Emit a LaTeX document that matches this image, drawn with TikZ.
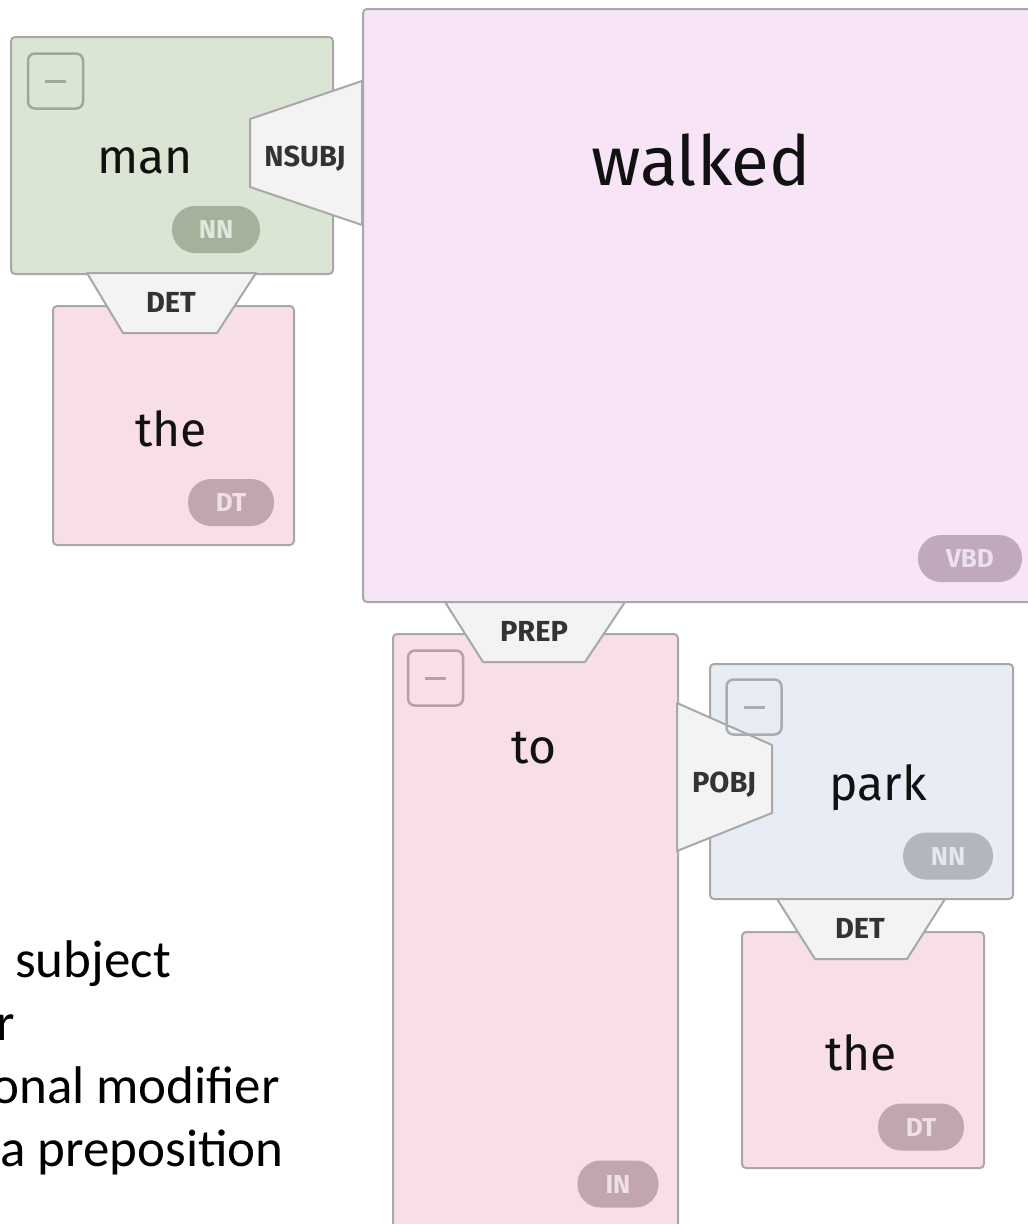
\documentclass[tikz,border=0pt]{standalone}
\usepackage{fontspec}
\setmainfont{Fira Sans}
\newfontfamily\calib{Carlito}
\definecolor{bordergray}{RGB}{168,168,168}
\definecolor{greenfill}{RGB}{218,230,211}
\definecolor{lilacfill}{RGB}{247,228,246}
\definecolor{pinkfill}{RGB}{248,222,229}
\definecolor{bluefill}{RGB}{232,237,245}
\definecolor{trapfill}{RGB}{243,243,243}
\definecolor{lbltext}{RGB}{51,51,51}
\definecolor{wordtext}{RGB}{17,17,17}
\definecolor{greenpill}{RGB}{164,178,156}
\definecolor{greenpilltext}{RGB}{225,232,222}
\definecolor{lilacpill}{RGB}{192,168,190}
\definecolor{lilacpilltext}{RGB}{236,224,236}
\definecolor{pinkpill}{RGB}{194,166,174}
\definecolor{pinkpilltext}{RGB}{238,224,228}
\definecolor{bluepill}{RGB}{178,183,191}
\definecolor{bluepilltext}{RGB}{228,231,236}
\definecolor{greenbtn}{RGB}{155,170,148}
\definecolor{pinkbtn}{RGB}{182,160,166}
\definecolor{bluebtn}{RGB}{168,173,181}
\tikzset{
  wordbox/.style={draw=bordergray, line width=2pt, rounded corners=4pt, anchor=north west, inner sep=0pt},
  trap/.style={fill=trapfill, draw=bordergray, line width=2pt, line join=round},
  lbl/.style={font=\bfseries\fontsize{29}{33}\selectfont, text=lbltext, anchor=base, inner sep=0pt},
  word/.style={font=\fontsize{48}{58}\selectfont, text=wordtext, anchor=base, inner sep=0pt},
  bigword/.style={font=\fontsize{69}{80}\selectfont, text=wordtext, anchor=base, inner sep=0pt},
  pill/.style={rounded corners=23pt, minimum height=47pt, inner sep=0pt, font=\bfseries\fontsize{26}{30}\selectfont},
  minusbtn/.style={rounded corners=7pt, line width=2.5pt, minimum width=55pt, minimum height=55pt, inner sep=0pt},
  btnline/.style={line width=3pt},
  legend/.style={font=\calib\fontsize{53}{62}\selectfont, text=black, inner sep=0pt}
}
\begin{document}
\begin{tikzpicture}[x=1pt, y=-1pt]
\useasboundingbox (0,0) rectangle (1028,1224);
\clip (0,0) rectangle (1028,1224);
% boxes
\node[wordbox, fill=greenfill, minimum width=322pt, minimum height=237pt] (man) at (10,36) {};
\node[wordbox, fill=pinkfill, minimum width=241pt, minimum height=239pt] (the1) at (52,305) {};
\node[wordbox, fill=lilacfill, minimum width=700pt, minimum height=593pt] (walked) at (362,8) {};
\node[wordbox, fill=pinkfill, minimum width=285pt, minimum height=650pt] (to) at (392,633) {};
\node[wordbox, fill=bluefill, minimum width=303pt, minimum height=235pt] (park) at (709,663) {};
\node[wordbox, fill=pinkfill, minimum width=242pt, minimum height=236pt] (the2) at (741,931) {};
% connectors (trapezoids)
\draw[trap] (362,81) -- (250,119) -- (250,187) -- (362,225) -- cycle;
\draw[trap] (87,273) -- (256,273) -- (217,333) -- (123,333) -- cycle;
\draw[trap] (445,602) -- (625,602) -- (585,662) -- (483,662) -- cycle;
\draw[trap] (677,703) -- (772,745) -- (772,813) -- (677,851) -- cycle;
\draw[trap] (777,899) -- (945,899) -- (907,959) -- (815,959) -- cycle;
% connector labels
\node[lbl] (nsubj) at (305,166) {NSUBJ};
\node[lbl] (det1) at (171,312) {DET};
\node[lbl] (prep) at (534,641) {PREP};
\node[lbl] (pobj) at (724,792) {POBJ};
\node[lbl] (det2) at (860,938) {DET};
% minus buttons
\node[minusbtn, draw=greenbtn] (manbtn) at (55.5,81) {};
\draw[btnline, greenbtn] (manbtn.center) +(-10.5,0) -- +(10.5,0);
\node[minusbtn, draw=pinkbtn] (tobtn) at (435.5,678) {};
\draw[btnline, pinkbtn] (tobtn.center) +(-10.5,0) -- +(10.5,0);
\node[minusbtn, draw=bluebtn] (parkbtn) at (754,707) {};
\draw[btnline, bluebtn] (parkbtn.center) +(-10.5,0) -- +(10.5,0);
% words
\node[word] (manw) at (145,173) {man};
\node[bigword] (walkedw) at (701,185) {walked};
\node[word] (the1w) at (171,446) {the};
\node[word] (tow) at (534,763) {to};
\node[word] (parkw) at (878,800) {park};
\node[word] (the2w) at (861,1070) {the};
% pills
\node[pill, fill=greenpill, text=greenpilltext, minimum width=88pt] (nn1) at (216,229.5) {NN};
\node[pill, fill=lilacpill, text=lilacpilltext, minimum width=104pt] (vbd) at (970,558.5) {VBD};
\node[pill, fill=pinkpill, text=pinkpilltext, minimum width=86pt] (dt1) at (231,502.5) {DT};
\node[pill, fill=pinkpill, text=pinkpilltext, minimum width=81pt] (in) at (618,1184) {IN};
\node[pill, fill=bluepill, text=bluepilltext, minimum width=90pt] (nn2) at (948,856) {NN};
\node[pill, fill=pinkpill, text=pinkpilltext, minimum width=86pt] (dt2) at (921,1127) {DT};
% legend fragments
\node[legend, anchor=base west] (leg1) at (15,977) {subject};
\node[legend, anchor=base west] (leg2) at (-4,1040) {r};
\node[legend, anchor=base east] (leg3) at (280,1103) {onal modifier};
\node[legend, anchor=base east] (leg4) at (284,1166) {a preposition};
\end{tikzpicture}
\end{document}
